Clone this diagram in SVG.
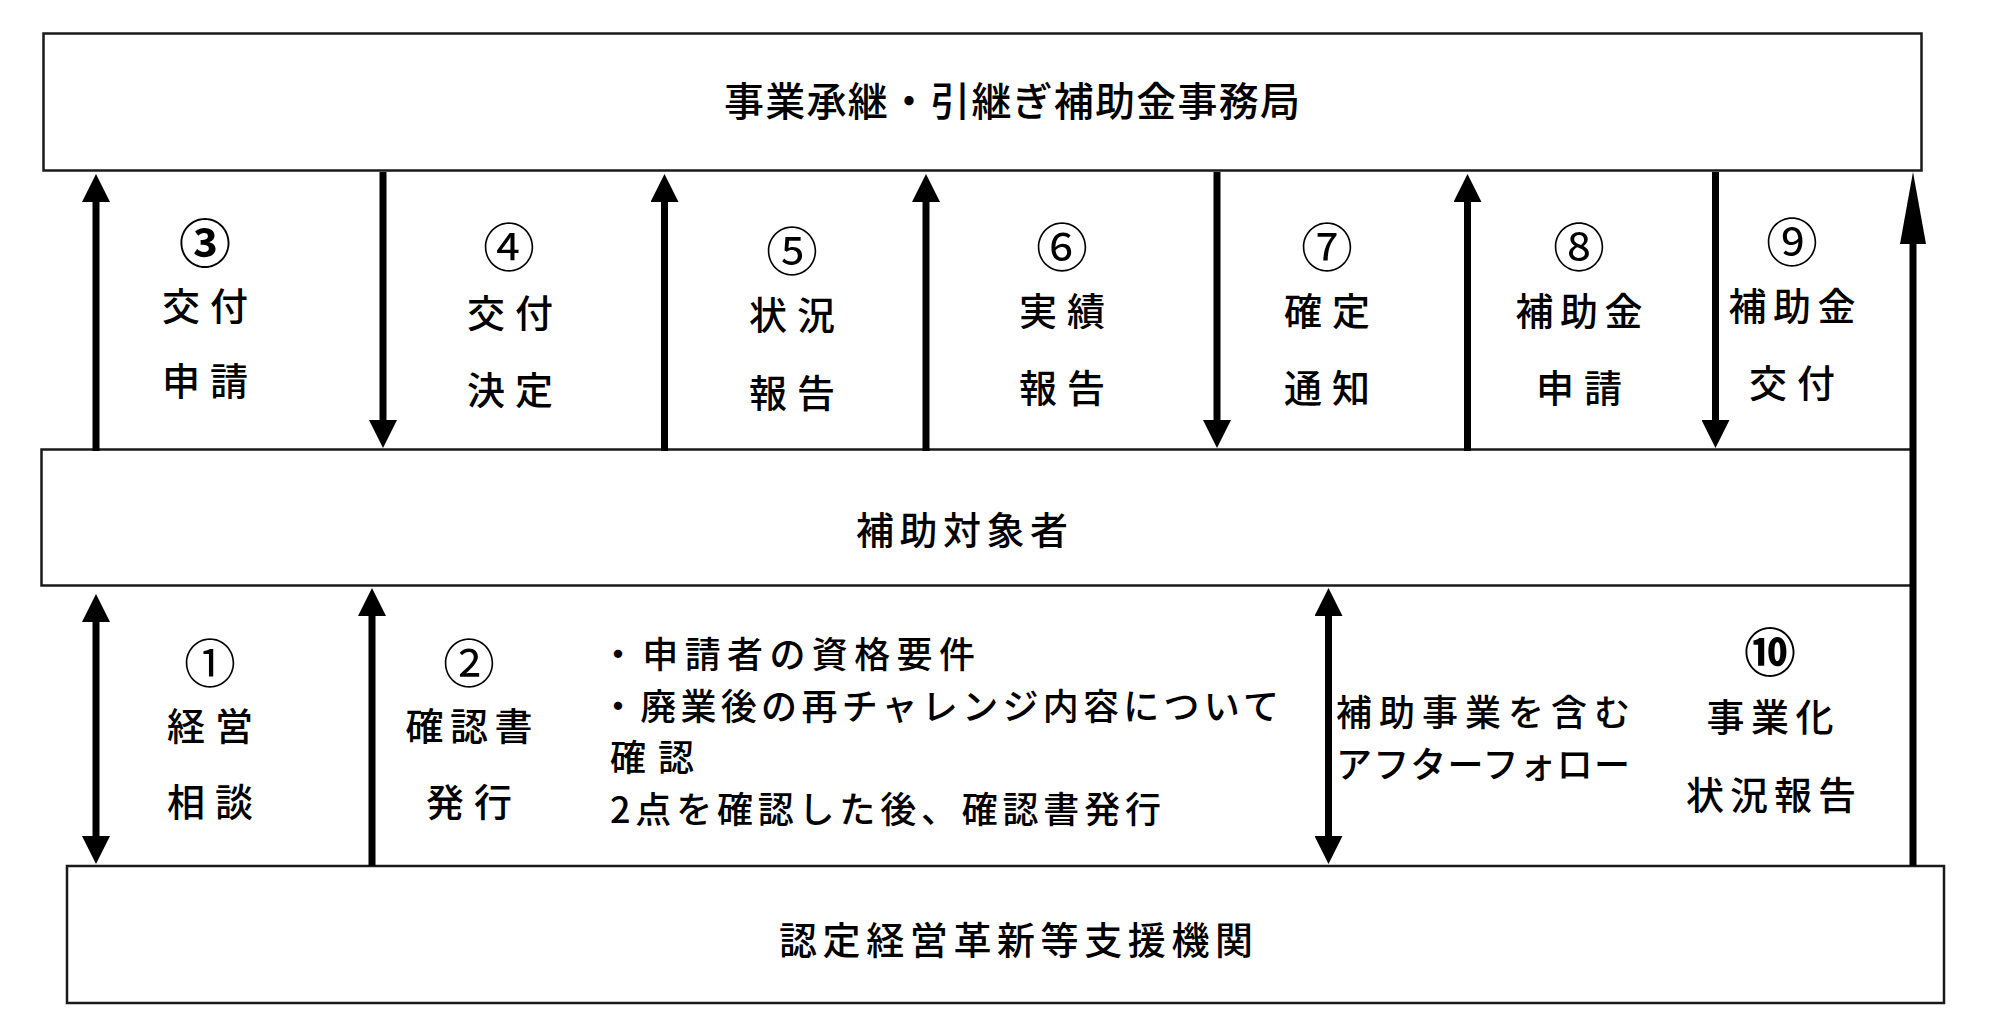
<svg xmlns="http://www.w3.org/2000/svg" width="1999" height="1036" viewBox="0 0 1999 1036">
<defs>
<marker id="ah" markerUnits="userSpaceOnUse" markerWidth="28" markerHeight="28" viewBox="0 0 28 28" refX="2" refY="14" orient="auto-start-reverse"><path d="M0,0 L28,14 L0,28 z" fill="#000"/></marker>
<marker id="ahLong" markerUnits="userSpaceOnUse" markerWidth="72" markerHeight="26" viewBox="0 0 72 26" refX="2" refY="13" orient="auto"><path d="M0,0 L72,13 L0,26 z" fill="#000"/></marker>
</defs>
<style>
.box{fill:#fff;stroke:#1a1a1a;stroke-width:2.5}
.t{font-family:"Noto Sans CJK JP","Noto Sans CJK SC",sans-serif;fill:#000;text-anchor:middle;dominant-baseline:central;font-size:38px;font-weight:500}
.s{text-anchor:start}
.p{font-size:36px}
.n{font-size:52px;font-weight:normal}
.b{font-weight:bold}
.arrow{stroke:#000;stroke-width:7;fill:none}
</style>
<rect width="1999" height="1036" fill="#fff"/>

<g id="node-jimukyoku">
<rect class="box" x="43.5" y="33.5" width="1878" height="137"/>
<text class="t" x="1012" y="99" style="font-size:40px" textLength="576" lengthAdjust="spacing">事業承継・引継ぎ補助金事務局</text>
</g>

<g id="node-taishosha">
<rect class="box" x="41.5" y="449.5" width="1870" height="136"/>
<text class="t" x="962" y="527" textLength="212" lengthAdjust="spacing">補助対象者</text>
</g>

<g id="node-shienkikan">
<rect class="box" x="67" y="866" width="1877" height="137"/>
<text class="t" x="1016" y="937" textLength="474" lengthAdjust="spacing">認定経営革新等支援機関</text>
</g>

<g id="connectors">
<line class="arrow" x1="96" y1="451" x2="96" y2="200" marker-end="url(#ah)"/>
<line class="arrow" x1="383" y1="172" x2="383" y2="422" marker-end="url(#ah)"/>
<line class="arrow" x1="664.5" y1="451" x2="664.5" y2="200" marker-end="url(#ah)"/>
<line class="arrow" x1="926" y1="451" x2="926" y2="200" marker-end="url(#ah)"/>
<line class="arrow" x1="1217" y1="172" x2="1217" y2="422" marker-end="url(#ah)"/>
<line class="arrow" x1="1467.5" y1="451" x2="1467.5" y2="200" marker-end="url(#ah)"/>
<line class="arrow" x1="1715.5" y1="172" x2="1715.5" y2="422" marker-end="url(#ah)"/>
<line class="arrow" x1="1913" y1="866" x2="1913" y2="242" marker-end="url(#ahLong)"/>
<line class="arrow" x1="96" y1="620" x2="96" y2="838" marker-start="url(#ah)" marker-end="url(#ah)"/>
<line class="arrow" x1="372" y1="866" x2="372" y2="614" marker-end="url(#ah)"/>
<line class="arrow" x1="1328.5" y1="614" x2="1328.5" y2="838" marker-start="url(#ah)" marker-end="url(#ah)"/>
</g>

<g id="label-3">
<text class="t n b" x="205" y="240">③</text>
<text class="t" x="205" y="303" textLength="86" lengthAdjust="spacing">交付</text>
<text class="t" x="205" y="378" textLength="86" lengthAdjust="spacing">申請</text>
</g>
<g id="label-4">
<text class="t n" x="509" y="244">④</text>
<text class="t" x="510" y="310" textLength="86" lengthAdjust="spacing">交付</text>
<text class="t" x="510" y="387" textLength="86" lengthAdjust="spacing">決定</text>
</g>
<g id="label-5">
<text class="t n" x="792" y="248">⑤</text>
<text class="t" x="792" y="312" textLength="86" lengthAdjust="spacing">状況</text>
<text class="t" x="792" y="390" textLength="86" lengthAdjust="spacing">報告</text>
</g>
<g id="label-6">
<text class="t n" x="1062" y="244">⑥</text>
<text class="t" x="1062" y="308" textLength="86" lengthAdjust="spacing">実績</text>
<text class="t" x="1062" y="385" textLength="86" lengthAdjust="spacing">報告</text>
</g>
<g id="label-7">
<text class="t n" x="1327" y="244">⑦</text>
<text class="t" x="1327" y="308" textLength="86" lengthAdjust="spacing">確定</text>
<text class="t" x="1327" y="385" textLength="86" lengthAdjust="spacing">通知</text>
</g>
<g id="label-8">
<text class="t n" x="1579" y="244">⑧</text>
<text class="t" x="1579" y="308" textLength="127" lengthAdjust="spacing">補助金</text>
<text class="t" x="1579" y="385" textLength="86" lengthAdjust="spacing">申請</text>
</g>
<g id="label-9">
<text class="t n" x="1792" y="239">⑨</text>
<text class="t" x="1792" y="303" textLength="127" lengthAdjust="spacing">補助金</text>
<text class="t" x="1792" y="380" textLength="86" lengthAdjust="spacing">交付</text>
</g>

<g id="label-1">
<text class="t n" x="210" y="660">①</text>
<text class="t" x="210" y="723" textLength="86" lengthAdjust="spacing">経営</text>
<text class="t" x="210" y="799" textLength="86" lengthAdjust="spacing">相談</text>
</g>
<g id="label-2">
<text class="t n" x="469" y="660">②</text>
<text class="t" x="469" y="723" textLength="127" lengthAdjust="spacing">確認書</text>
<text class="t" x="469" y="799" textLength="86" lengthAdjust="spacing">発行</text>
</g>
<g id="note-kakunin">
<text class="t s p" x="600" y="652" textLength="375" lengthAdjust="spacing">・申請者の資格要件</text>
<text class="t s p" x="600" y="704" textLength="679" lengthAdjust="spacing">・廃業後の再チャレンジ内容について</text>
<text class="t s p" x="610" y="755" textLength="84" lengthAdjust="spacing">確認</text>
<text class="t s p" x="610" y="807" textLength="551" lengthAdjust="spacing">2点を確認した後、確認書発行</text>
</g>
<g id="label-afterfollow">
<text class="t s p" x="1336" y="710" textLength="294" lengthAdjust="spacing">補助事業を含む</text>
<text class="t s p" x="1336" y="762" textLength="294" lengthAdjust="spacing">アフターフォロー</text>
</g>
<g id="label-10">
<text class="t n b" x="1770" y="649">⑩</text>
<text class="t" x="1770" y="714" textLength="127" lengthAdjust="spacing">事業化</text>
<text class="t" x="1771" y="792" textLength="170" lengthAdjust="spacing">状況報告</text>
</g>
</svg>
